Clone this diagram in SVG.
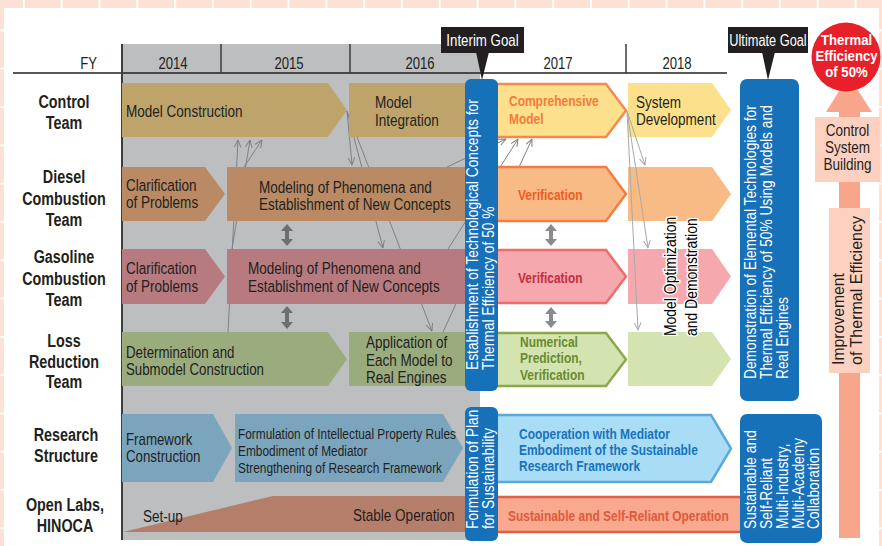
<svg xmlns="http://www.w3.org/2000/svg" width="882" height="546" viewBox="0 0 882 546">
<defs>
<pattern id="grid" patternUnits="userSpaceOnUse" x="23" y="29.5" width="37.8" height="38.3">
<rect width="37.8" height="38.3" fill="#fde1d4"/>
<rect x="0" y="0" width="1.8" height="38.3" fill="#ffffff"/>
<rect x="0" y="0" width="37.8" height="1.8" fill="#ffffff"/>
</pattern>
<marker id="ah" viewBox="0 0 8 8" refX="7.5" refY="4" markerWidth="8" markerHeight="8" markerUnits="userSpaceOnUse" orient="auto">
<path d="M0,0.6 L7.5,4 L0,7.4" fill="none" stroke="#808184" stroke-width="1"/>
</marker>
<marker id="ah2" viewBox="0 0 8 8" refX="7.5" refY="4" markerWidth="8" markerHeight="8" markerUnits="userSpaceOnUse" orient="auto">
<path d="M0,0.6 L7.5,4 L0,7.4" fill="none" stroke="#a7a9ac" stroke-width="1"/>
</marker>
</defs>
<style>
text{font-family:"Liberation Sans",Arial,"DejaVu Sans",sans-serif;}
.t{font-size:16.5px;fill:#231f20;}
.lab{font-size:17.5px;font-weight:bold;fill:#231f20;text-anchor:middle;}
.hd{font-size:16px;fill:#231f20;text-anchor:middle;}
.b{font-size:14.6px;font-weight:bold;}
.w{fill:#ffffff;font-size:16.8px;}
.mid{text-anchor:middle;}
.con{fill:none;stroke:#808184;stroke-width:1;marker-end:url(#ah);}
.con2{fill:none;stroke:#a7a9ac;stroke-width:1;marker-end:url(#ah2);}
.blue{fill:#1671b8;}
.dbl{fill:#6d6e71;}
.dbl2{fill:#8a8b8e;}
</style>
<rect x="0" y="0" width="882" height="546" fill="url(#grid)"/>
<rect x="4" y="8" width="875" height="538" fill="#ffffff"/>

<g id="header">
<rect x="122" y="44" width="358" height="496" fill="#bcbec0"/>
<line x1="13" y1="73" x2="727" y2="73" stroke="#231f20" stroke-width="1.5"/>
<line x1="122" y1="44" x2="122" y2="540" stroke="#3d3d3f" stroke-width="2"/>
<line x1="221" y1="44" x2="221" y2="73" stroke="#3d3d3f" stroke-width="1.5"/>
<line x1="350" y1="44" x2="350" y2="73" stroke="#3d3d3f" stroke-width="1.5"/>
<line x1="626" y1="44" x2="626" y2="73" stroke="#3d3d3f" stroke-width="1.5"/>
<text class="hd" transform="translate(97,69) scale(0.82,1)" style="text-anchor:end">FY</text>
<text class="hd" transform="translate(173,69) scale(0.82,1)">2014</text>
<text class="hd" transform="translate(289,69) scale(0.82,1)">2015</text>
<text class="hd" transform="translate(420,69) scale(0.82,1)">2016</text>
<text class="hd" transform="translate(558,69) scale(0.82,1)">2017</text>
<text class="hd" transform="translate(677,69) scale(0.82,1)">2018</text>
</g>

<g id="row-labels">
<text class="lab" transform="translate(64,108) scale(0.82,1)">Control</text>
<text class="lab" transform="translate(64,129) scale(0.82,1)">Team</text>
<text class="lab" transform="translate(64,183) scale(0.82,1)">Diesel</text>
<text class="lab" transform="translate(64,205) scale(0.82,1)">Combustion</text>
<text class="lab" transform="translate(64,226) scale(0.82,1)">Team</text>
<text class="lab" transform="translate(64,263) scale(0.82,1)">Gasoline</text>
<text class="lab" transform="translate(64,285) scale(0.82,1)">Combustion</text>
<text class="lab" transform="translate(64,306) scale(0.82,1)">Team</text>
<text class="lab" transform="translate(64,347) scale(0.82,1)">Loss</text>
<text class="lab" transform="translate(64,368) scale(0.82,1)">Reduction</text>
<text class="lab" transform="translate(64,388) scale(0.82,1)">Team</text>
<text class="lab" transform="translate(66,441) scale(0.82,1)">Research</text>
<text class="lab" transform="translate(66,462) scale(0.82,1)">Structure</text>
<text class="lab" transform="translate(65,511) scale(0.82,1)">Open Labs,</text>
<text class="lab" transform="translate(65,532) scale(0.82,1)">HINOCA</text>
</g>

<g id="col2018">
<polygon points="628,83 712,83 731,110 712,137 628,137" fill="#fde08c"/>
<text class="t" transform="translate(636,108) scale(0.82,1)">System</text>
<text class="t" transform="translate(636,125) scale(0.82,1)">Development</text>
<polygon points="628,167 712,167 731,194 712,221 628,221" fill="#f9bb85"/>
<polygon points="628,249 712,249 731,276.5 712,304 628,304" fill="#f5a8ae"/>
<polygon points="628,332 712,332 731,359 712,386 628,386" fill="#d4e4b0"/>
</g>

<g id="connectors">
<path class="con" d="M228,332 L238,140"/>
<path class="con" d="M232,249 L250,140"/>
<path class="con" d="M244,167 L262,140"/>
<path class="con" d="M347,111 L352,165"/>
<path class="con" d="M347,111 L383,248"/>
<path class="con" d="M347,111 L432,331"/>
<path class="con" d="M447,167 L506,139"/>
<path class="con" d="M448,249 L518,139"/>
<path class="con" d="M443,332 L532,139"/>
<path class="con2" d="M627,111 L645,165"/>
<path class="con2" d="M627,111 L648,248"/>
<path class="con2" d="M627,111 L638,330"/>
</g>

<g id="control">
<polygon points="122,83 328,83 347,110 328,137 122,137" fill="#bea46b"/>
<text class="t" transform="translate(126,116.5) scale(0.82,1)">Model Construction</text>
<rect x="349" y="83" width="121" height="54" fill="#bea46b"/>
<text class="t" transform="translate(375,108) scale(0.82,1)">Model</text>
<text class="t" transform="translate(375,125.5) scale(0.82,1)">Integration</text>
</g>

<g id="diesel">
<polygon points="122,167 205,167 225,194 205,221 122,221" fill="#b98a63"/>
<text class="t" transform="translate(126,190.5) scale(0.82,1)">Clarification</text>
<text class="t" transform="translate(126,208.3) scale(0.82,1)">of Problems</text>
<rect x="227" y="167" width="243" height="54" fill="#b98a63"/>
<text class="t" transform="translate(259,192.5) scale(0.82,1)">Modeling of Phenomena and</text>
<text class="t" transform="translate(259,210) scale(0.82,1)">Establishment of New Concepts</text>
</g>

<g id="gasoline">
<polygon points="122,249 205,249 225,276.5 205,304 122,304" fill="#b77b7f"/>
<text class="t" transform="translate(126,274) scale(0.82,1)">Clarification</text>
<text class="t" transform="translate(126,291.7) scale(0.82,1)">of Problems</text>
<rect x="227" y="249" width="243" height="55" fill="#b77b7f"/>
<text class="t" transform="translate(248,274) scale(0.82,1)">Modeling of Phenomena and</text>
<text class="t" transform="translate(248,291.7) scale(0.82,1)">Establishment of New Concepts</text>
</g>

<g id="loss">
<polygon points="122,332 328,332 347,359 328,386 122,386" fill="#9aab7d"/>
<text class="t" transform="translate(126,357.6) scale(0.82,1)" style="font-size:16.2px">Determination and</text>
<text class="t" transform="translate(126,375) scale(0.82,1)" style="font-size:16.2px">Submodel Construction</text>
<rect x="349" y="332" width="121" height="54" fill="#9aab7d"/>
<text class="t" transform="translate(366,348.4) scale(0.82,1)">Application of</text>
<text class="t" transform="translate(366,365.5) scale(0.82,1)">Each Model to</text>
<text class="t" transform="translate(366,383) scale(0.82,1)">Real Engines</text>
</g>

<g id="research">
<polygon points="122,414 213,414 232,448 213,482 122,482" fill="#7ba5bd"/>
<text class="t" transform="translate(126,444.5) scale(0.82,1)" style="font-size:16.2px">Framework</text>
<text class="t" transform="translate(126,461.7) scale(0.82,1)" style="font-size:16.2px">Construction</text>
<polygon points="235,414 443,414 463,448 443,482 235,482" fill="#7ba5bd"/>
<text class="t" transform="translate(238,439) scale(0.82,1)" style="font-size:14.5px">Formulation of Intellectual Property Rules</text>
<text class="t" transform="translate(238,456) scale(0.82,1)" style="font-size:14.5px">Embodiment of Mediator</text>
<text class="t" transform="translate(238,473) scale(0.82,1)" style="font-size:14.5px">Strengthening of Research Framework</text>
</g>

<g id="openlabs">
<polygon points="123,532 273,496 470,496 470,532" fill="#b57e6a"/>
<text class="t" transform="translate(143,522) scale(0.82,1)">Set-up</text>
<text class="t" transform="translate(353,521) scale(0.82,1)">Stable Operation</text>
</g>

<g id="dbl-arrows">
<path class="dbl" d="M287,224 L293,231 L289,231 L289,239 L293,239 L287,246 L281,239 L285,239 L285,231 L281,231 Z"/>
<path class="dbl" d="M287,306 L293,313 L289,313 L289,322 L293,322 L287,329 L281,322 L285,322 L285,313 L281,313 Z"/>
<path class="dbl2" d="M551,224 L557,231 L553,231 L553,239 L557,239 L551,246 L545,239 L549,239 L549,231 L545,231 Z"/>
<path class="dbl2" d="M551,307 L557,314 L553,314 L553,321 L557,321 L551,328 L545,321 L549,321 L549,314 L545,314 Z"/>
</g>

<g id="col2017">
<polygon points="494,84 606,84 626,110.5 606,137 494,137" fill="#fde08c" stroke="#f38b4e" stroke-width="2.5"/>
<text class="b" transform="translate(509,106.4) scale(0.82,1)" fill="#f47b3b">Comprehensive</text>
<text class="b" transform="translate(509,124) scale(0.82,1)" fill="#f47b3b">Model</text>
<polygon points="494,167 606,167 626,194 606,221 494,221" fill="#f9bb85" stroke="#f37c45" stroke-width="2.5"/>
<text class="b" transform="translate(518,199.5) scale(0.82,1)" fill="#ef5b24">Verification</text>
<polygon points="494,250 606,250 626,276.5 606,303 494,303" fill="#f5a8ae" stroke="#ed6d6e" stroke-width="2.5"/>
<text class="b" transform="translate(518,283) scale(0.82,1)" fill="#c52d41">Verification</text>
<polygon points="494,333 606,333 626,359.5 606,386 494,386" fill="#d4e4b0" stroke="#8ba84c" stroke-width="2.5"/>
<text class="b" transform="translate(520,347) scale(0.82,1)" fill="#6b8b2f">Numerical</text>
<text class="b" transform="translate(520,363) scale(0.82,1)" fill="#6b8b2f">Prediction,</text>
<text class="b" transform="translate(520,379.5) scale(0.82,1)" fill="#6b8b2f">Verification</text>
<polygon points="494,415 711,415 731,448.5 711,482 494,482" fill="#a9ddf6" stroke="#5ba8db" stroke-width="2.5"/>
<text class="b" transform="translate(519,438.5) scale(0.82,1)" fill="#1a73ba">Cooperation with Mediator</text>
<text class="b" transform="translate(519,454.5) scale(0.82,1)" fill="#1a73ba">Embodiment of the Sustainable</text>
<text class="b" transform="translate(519,471) scale(0.82,1)" fill="#1a73ba">Research Framework</text>
<rect x="494" y="497" width="250" height="35" fill="#f8a98e" stroke="#db6249" stroke-width="2.5"/>
<text class="b" transform="translate(508,520.5) scale(0.82,1)" fill="#e05a3c">Sustainable and Self-Reliant Operation</text>
</g>

<g id="model-opt">
<text transform="translate(676,336) rotate(-90) scale(0.82,1)" style="font-size:17px;fill:#000;stroke:#fff;stroke-width:3;paint-order:stroke">Model Optimization</text>
<text transform="translate(697,336) rotate(-90) scale(0.82,1)" style="font-size:17px;fill:#000;stroke:#fff;stroke-width:3;paint-order:stroke">and Demonstration</text>
</g>

<g id="interim-bar">
<rect class="blue" x="465" y="79" width="33" height="312" rx="6"/>
<text class="w" transform="translate(477.5,370) rotate(-90) scale(0.82,1)">Establishment of Technological Concepts for</text>
<text class="w" transform="translate(493.5,370) rotate(-90) scale(0.82,1)">Thermal Efficiency of 50 %</text>
</g>

<g id="sustain-plan">
<rect class="blue" x="465" y="407" width="33" height="134" rx="6"/>
<text class="w" transform="translate(478,529) rotate(-90) scale(0.82,1)">Formulation of Plan</text>
<text class="w" transform="translate(494,529) rotate(-90) scale(0.82,1)">for Sustainability</text>
</g>

<g id="ultimate-bar">
<rect class="blue" x="740" y="79" width="59" height="322" rx="7"/>
<text class="w" transform="translate(756,379) rotate(-90) scale(0.82,1)">Demonstration of Elemental Technologies for</text>
<text class="w" transform="translate(772,379) rotate(-90) scale(0.82,1)">Thermal Efficiency of 50% Using Models and</text>
<text class="w" transform="translate(788,379) rotate(-90) scale(0.82,1)">Real Engines</text>
</g>

<g id="collab-bar">
<rect class="blue" x="740" y="414" width="82" height="129" rx="7"/>
<text class="w" transform="translate(756,529) rotate(-90) scale(0.82,1)">Sustainable and</text>
<text class="w" transform="translate(772,529) rotate(-90) scale(0.82,1)">Self-Reliant</text>
<text class="w" transform="translate(788,529) rotate(-90) scale(0.82,1)">Multi-Industry,</text>
<text class="w" transform="translate(803.5,529) rotate(-90) scale(0.82,1)">Multi-Academy</text>
<text class="w" transform="translate(819,529) rotate(-90) scale(0.82,1)">Collaboration</text>
</g>

<g id="interim-goal">
<rect x="441" y="27" width="83" height="26" fill="#231f20"/>
<polygon points="476,52 489,52 482,80" fill="#231f20"/>
<text class="mid" transform="translate(482.5,46) scale(0.82,1)" style="font-size:16.2px;fill:#fff">Interim Goal</text>
</g>

<g id="ultimate-goal">
<rect x="728" y="27" width="80" height="26" fill="#231f20"/>
<polygon points="762,52 775,52 768,80" fill="#231f20"/>
<text class="mid" transform="translate(768,46) scale(0.82,1)" style="font-size:15.6px;fill:#fff">Ultimate Goal</text>
</g>

<g id="efficiency-arrow">
<rect x="839" y="108" width="21" height="430" fill="#f7a68c"/>
<polygon points="848.5,76 872,112 826,112" fill="#f7a68c"/>
<rect x="815" y="117" width="65" height="65" fill="#fdd0bf"/>
<text class="t mid" transform="translate(847.5,136) scale(0.82,1)" style="font-size:16.5px">Control</text>
<text class="t mid" transform="translate(847.5,153) scale(0.82,1)" style="font-size:16.5px">System</text>
<text class="t mid" transform="translate(847.5,170) scale(0.82,1)" style="font-size:16.5px">Building</text>
<rect x="829" y="208" width="41" height="165" fill="#fdd0bf"/>
<text class="t" transform="translate(844,365) rotate(-90)" style="font-size:17px" textLength="92" lengthAdjust="spacingAndGlyphs">Improvement</text>
<text class="t" transform="translate(862,365) rotate(-90)" style="font-size:17px" textLength="149" lengthAdjust="spacingAndGlyphs">of Thermal Efficiency</text>
</g>

<g id="goal-circle">
<circle cx="846" cy="57" r="34.5" fill="#e8202a"/>
<text class="mid" transform="translate(846.5,44.5) scale(0.85,1)" style="font-size:15.5px;font-weight:bold;fill:#fff">Thermal</text>
<text class="mid" transform="translate(846.5,60.5) scale(0.85,1)" style="font-size:15.5px;font-weight:bold;fill:#fff">Efficiency</text>
<text class="mid" transform="translate(846.5,76.5) scale(0.85,1)" style="font-size:15.5px;font-weight:bold;fill:#fff">of 50%</text>
</g>
</svg>
